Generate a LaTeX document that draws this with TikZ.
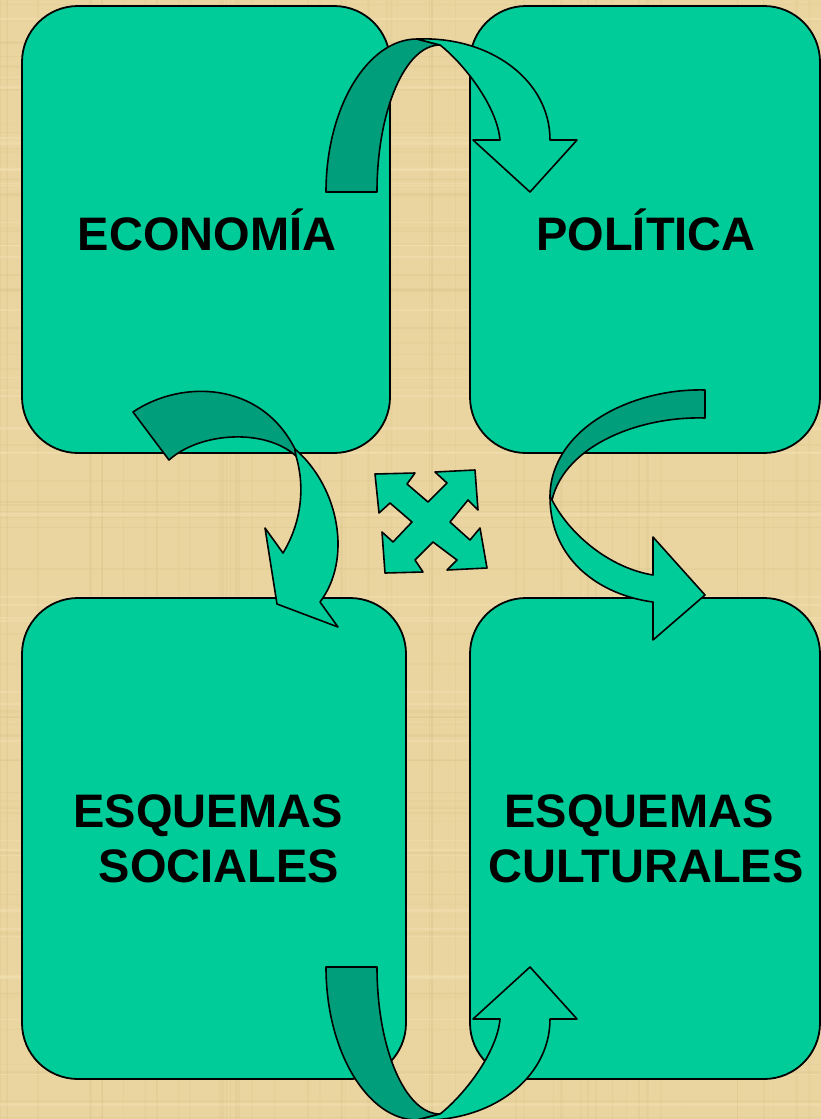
\documentclass[tikz,border=0pt]{standalone}
\usepackage{fontspec}
\setmainfont{Liberation Sans}
\definecolor{papyrus}{RGB}{234,213,160}
\definecolor{papyrusdark}{RGB}{212,186,125}
\definecolor{papyruslight}{RGB}{246,230,185}
\definecolor{teal}{RGB}{0,204,153}
\definecolor{tealdark}{RGB}{0,158,122}
\tikzset{
  box/.style={draw=black, line width=1.8pt, fill=teal, rounded corners=56pt},
  lightband/.style={draw=black, line width=1.6pt, fill=teal, line join=round},
  darkband/.style={draw=black, line width=1.6pt, fill=tealdark, line join=round},
  label/.style={anchor=base, inner sep=0pt, font=\fontsize{47}{55}\selectfont\bfseries}
}
\begin{document}
\begin{tikzpicture}[x=1pt,y=-1pt]
\useasboundingbox (0,0) rectangle (821,1119);
\fill[papyrus] (0,0) rectangle (821,1119);
% faint irregular papyrus texture
\pgfmathsetseed{7}
\foreach \i in {1,...,70} {
  \pgfmathsetmacro{\yy}{rnd*1119}
  \pgfmathsetmacro{\ww}{0.6+rnd*2.2}
  \pgfmathsetmacro{\oo}{0.08+rnd*0.14}
  \draw[papyrusdark, opacity=\oo, line width=\ww pt] (0,\yy) -- (821,\yy);
}
\foreach \i in {1,...,55} {
  \pgfmathsetmacro{\xx}{rnd*821}
  \pgfmathsetmacro{\ww}{0.6+rnd*2.2}
  \pgfmathsetmacro{\oo}{0.08+rnd*0.14}
  \draw[papyrusdark, opacity=\oo, line width=\ww pt] (\xx,0) -- (\xx,1119);
}
\foreach \i in {1,...,40} {
  \pgfmathsetmacro{\yy}{rnd*1119}
  \pgfmathsetmacro{\ww}{0.8+rnd*2.5}
  \draw[papyruslight, opacity=0.35, line width=\ww pt] (0,\yy) -- (821,\yy);
}

% boxes
\path[box] (22,6) rectangle (390,453);
\path[box] (470,6) rectangle (820,453);
\path[box] (22,598) rectangle (406,1079);
\path[box] (470,598) rectangle (820,1079);

% labels
\node[label] (eco) at (207,250) {ECONOMÍA};
\node[label] (pol) at (646,250) {POLÍTICA};
\node[label] (esq1) at (208,827) {ESQUEMAS};
\node[label] (soc) at (219,882) {SOCIALES};
\node[label] (esq2) at (639,827) {ESQUEMAS};
\node[label] (cul) at (646,882) {CULTURALES};

% top curved arrow
\path[darkband] (326,192) .. controls (326,107) and (368,39) .. (417,39)
  -- (440,45) .. controls (405,45) and (377,111) .. (377,192) -- cycle;
\path[lightband] (417,39) .. controls (490,36) and (550,80) .. (550,140)
  -- (577,140) -- (530,192) -- (473,140) -- (500,140)
  .. controls (497,105) and (462,62) .. (440,45) -- cycle;

% bottom curved arrow
\path[darkband] (326,967) .. controls (326,1052) and (368,1120) .. (417,1120)
  -- (440,1114) .. controls (405,1114) and (377,1048) .. (377,967) -- cycle;
\path[lightband] (417,1120) .. controls (490,1123) and (550,1079) .. (550,1019)
  -- (577,1019) -- (530,967) -- (473,1019) -- (500,1019)
  .. controls (497,1054) and (462,1097) .. (440,1114) -- cycle;

% left middle arrow
\path[darkband] (133,412) .. controls (180,380) and (260,380) .. (295,449)
  -- (296,456) .. controls (265,428) and (200,432) .. (169,460) -- cycle;
\path[lightband] (295,449) .. controls (340,488) and (352,560) .. (320,602)
  -- (338,627) -- (277,604) -- (265,528) -- (283,553)
  .. controls (300,525) and (306,490) .. (296,456) -- cycle;

% right middle arrow
\path[darkband] (705,390) .. controls (630,388) and (550,430) .. (550,497)
  -- (552,500) .. controls (565,445) and (640,416) .. (705,418) -- cycle;
\path[lightband] (550,497) .. controls (550,560) and (600,595) .. (653,602)
  -- (653,640) -- (705,595) -- (653,537) -- (653,575)
  .. controls (610,568) and (570,535) .. (552,500) -- cycle;

% central four-way arrow
\path[lightband] (375,474) -- (415,473) -- (407,484) -- (428,502) -- (447,483)
  -- (435,472) -- (475,470) -- (478,510) -- (468,500) -- (450,522)
  -- (470,540) -- (480,528) -- (487,568) -- (447,570) -- (457,560)
  -- (433,542) -- (415,560) -- (423,572) -- (385,573) -- (382,532)
  -- (393,542) -- (412,522) -- (390,503) -- (379,513) -- cycle;
\end{tikzpicture}
\end{document}
